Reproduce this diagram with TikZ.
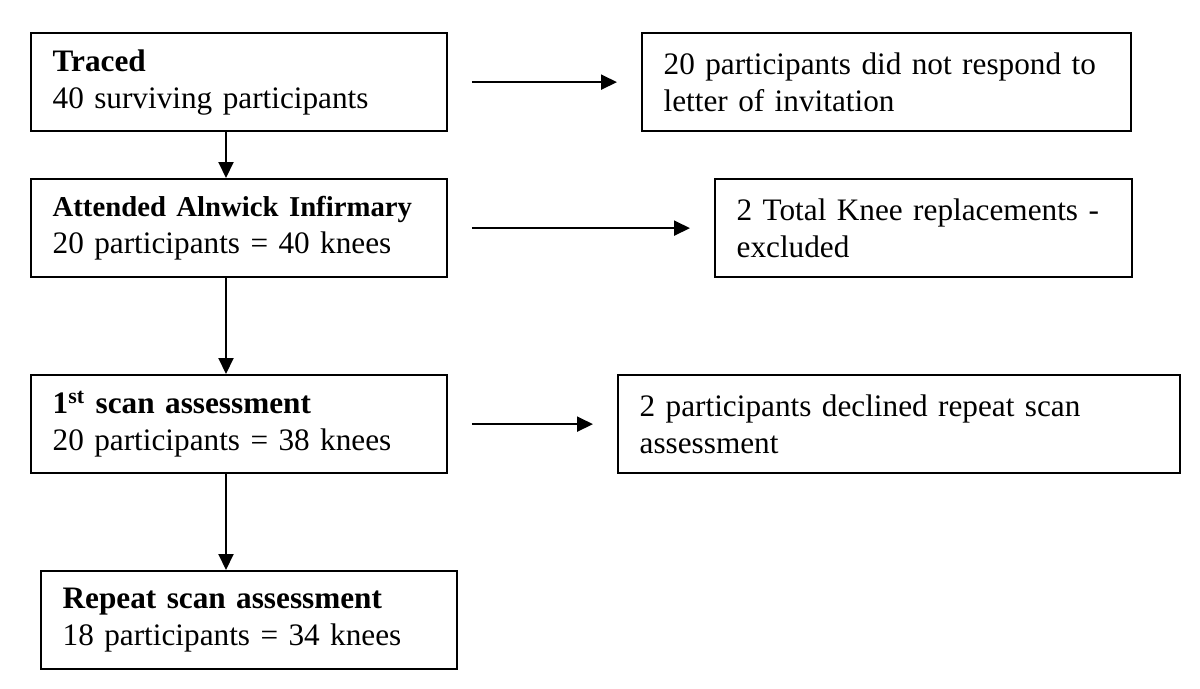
\documentclass[tikz,border=0pt]{standalone}
\usepackage{fontspec}
\setmainfont{Liberation Serif}
\usetikzlibrary{arrows.meta,positioning}

\tikzset{
  stagebox/.style={draw, rectangle, line width=0.9pt, anchor=north west, align=left,
    minimum height=39.2pt, inner xsep=8.6pt, inner ysep=0pt,
    font=\fontsize{12.5}{14.8}\selectfont},
  flow/.style={line width=0.8pt, -{Triangle[length=6.4pt,width=6pt]}},
  sideflow/.style={flow, shorten <=9.4pt, shorten >=9.6pt}
}

\begin{document}
\begin{tikzpicture}[x=0.4pt, y=-0.4pt]
  \useasboundingbox (0,0) rectangle (1200,688);

  % Main stages
  \node[stagebox, text width=149.2pt] (traced) at (30,32)
    {\textbf{Traced}\\40 surviving participants};
  \node[stagebox, text width=149.2pt] (attended) at (30,178)
    {{\fontsize{11.5}{14.8}\selectfont\bfseries Attended Alnwick Infirmary}\\20 participants = 40 knees};
  \node[stagebox, text width=149.2pt] (firstscan) at (30,374)
    {\textbf{1\textsuperscript{st} scan assessment}\\20 participants = 38 knees};
  \node[stagebox, text width=149.2pt] (repeat) at (40,570)
    {\textbf{Repeat scan assessment}\\18 participants = 34 knees};

  % Losses at each stage
  \node[stagebox, text width=178.4pt] (noreply) at (641,32)
    {20 participants did not respond to\\letter of invitation};
  \node[stagebox, text width=149.6pt] (knee) at (714,178)
    {2 Total Knee replacements -\\excluded};
  \node[stagebox, text width=207.6pt] (declined) at (617,374)
    {2 participants declined repeat scan\\assessment};

  % Connectors
  \coordinate (spine) at (226,0);
  \draw[flow] (spine |- traced.south) -- (spine |- attended.north);
  \draw[flow] (spine |- attended.south) -- (spine |- firstscan.north);
  \draw[flow] (spine |- firstscan.south) -- (spine |- repeat.north);

  \draw[sideflow] (traced.east) -- (noreply.west);
  \draw[sideflow] (attended.east) -- (knee.west);
  \draw[sideflow] (firstscan.east) -- (declined.west);
\end{tikzpicture}
\end{document}
